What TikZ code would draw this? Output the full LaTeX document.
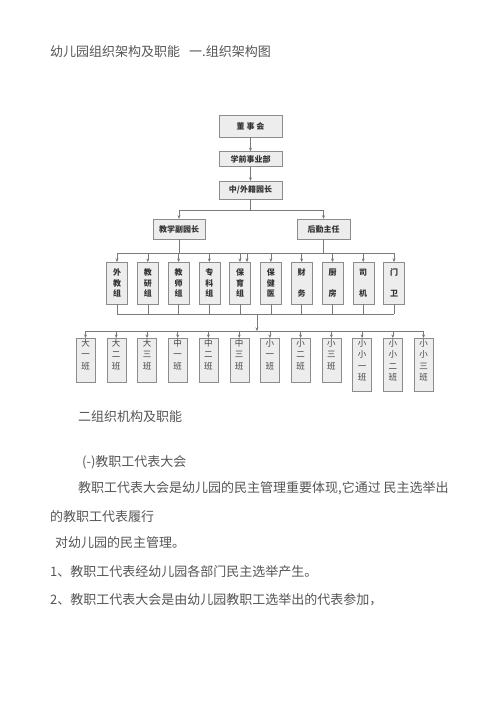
\documentclass[tikz,border=0pt]{standalone}
\usepackage{fontspec}
\setmainfont{Noto Sans CJK SC}
\usetikzlibrary{arrows.meta}
\definecolor{linegray}{HTML}{7A7A7A}
\definecolor{boxline}{HTML}{8C8C8C}
\definecolor{boxfill}{HTML}{EDEDED}
\definecolor{textgray}{HTML}{555555}
\begin{document}
\begin{tikzpicture}[x=1pt,y=-1pt,
  box/.style={draw=boxline, fill=boxfill, inner sep=1pt, text=black!80, font=\fontsize{8}{10}\selectfont\bfseries},
  gbox/.style={box, anchor=north, minimum width=21pt, minimum height=42pt, align=center, font=\fontsize{8}{10.5}\selectfont\bfseries},
  cbox/.style={box, anchor=north, minimum width=19pt, minimum height=44pt},
  ctxt/.style={anchor=north, inner sep=1pt, align=center, text=black!75, font=\fontsize{8.5}{11.5}\selectfont},
  txt/.style={anchor=west, inner sep=0pt, text=textgray, font=\fontsize{13}{15}\selectfont},
  conn/.style={draw=linegray, line width=0.6pt},
  arr/.style={conn, -{Stealth[length=3.5pt,width=3pt]}}]
\path[fill=white] (0,0) rectangle (500,707);
\useasboundingbox (0,0) rectangle (500,707);

% heading
\node[txt] (title) at (50,52) {幼儿园组织架构及职能\hspace{9pt}一.组织架构图};

% top of the chart
\node[box, minimum width=63pt, minimum height=22pt] (dsh) at (250.5,126) {董~事~会};
\node[box, minimum width=63pt, minimum height=15pt] (xq) at (250.5,159) {学前事业部};
\node[box, minimum width=63pt, minimum height=18pt] (zwy) at (250.5,190) {中/外籍园长};
\node[box, minimum width=52pt, minimum height=20pt] (jx) at (179,229) {教学副园长};
\node[box, minimum width=53pt, minimum height=20pt] (hq) at (323.5,229) {后勤主任};
\draw[arr] (dsh) -- (xq);
\draw[arr] (xq) -- (zwy);
\coordinate (topbus) at (250.5,210);
\draw[conn] (zwy) -- (topbus);
\draw[conn] (jx |- topbus) -- (hq |- topbus);
\draw[arr] (jx |- topbus) -- (jx);
\draw[arr] (hq |- topbus) -- (hq);

% groups
\node[gbox] (g1) at (117,262) {外\\教\\组};
\node[gbox] (g2) at (147.8,262) {教\\研\\组};
\node[gbox] (g3) at (178.6,262) {教\\师\\组};
\node[gbox] (g4) at (209.3,262) {专\\科\\组};
\node[gbox] (g5) at (240.1,262) {保\\育\\组};
\node[gbox] (g6) at (270.9,262) {保\\健\\医};
\node[gbox] (g7) at (301.7,262) {财\\[10.5pt]务};
\node[gbox] (g8) at (332.5,262) {厨\\[10.5pt]房};
\node[gbox] (g9) at (363.2,262) {司\\[10.5pt]机};
\node[gbox] (g10) at (394,262) {门\\[10.5pt]卫};
\coordinate (midbus) at (0,253);
\coordinate (byL) at (240,253);
\coordinate (byR) at (247,253);
\draw[conn] (jx) -- (jx |- midbus);
\draw[conn] (hq) -- (hq |- midbus);
\draw[conn] (g1 |- midbus) -- (byR);
\draw[conn] (byL) -- (g10 |- midbus);
\draw[arr] (g1 |- midbus) -- (g1);
\draw[arr] (g2 |- midbus) -- (g2);
\draw[arr] (g3 |- midbus) -- (g3);
\draw[arr] (g4 |- midbus) -- (g4);
\draw[arr] (byL) -- (byL |- g5.north);
\draw[arr] (byR) -- (byR |- g5.north);
\draw[arr] (g6 |- midbus) -- (g6);
\draw[arr] (g7 |- midbus) -- (g7);
\draw[arr] (g8 |- midbus) -- (g8);
\draw[arr] (g9 |- midbus) -- (g9);
\draw[arr] (g10 |- midbus) -- (g10);

% collect the groups
\coordinate (lowbus) at (0,314);
\draw[conn] (g1) -- (g1 |- lowbus);
\draw[conn] (g2) -- (g2 |- lowbus);
\draw[conn] (g3) -- (g3 |- lowbus);
\draw[conn] (g4) -- (g4 |- lowbus);
\draw[conn] (g5) -- (g5 |- lowbus);
\draw[conn] (g6) -- (g6 |- lowbus);
\draw[conn] (g7) -- (g7 |- lowbus);
\draw[conn] (g8) -- (g8 |- lowbus);
\draw[conn] (g9) -- (g9 |- lowbus);
\draw[conn] (g10) -- (g10 |- lowbus);
\draw[conn] (g1 |- lowbus) -- (g10 |- lowbus);

% classes
\node[cbox] (c1) at (85.5,338) {};
\node[cbox] (c2) at (116.2,338) {};
\node[cbox] (c3) at (147,338) {};
\node[cbox] (c4) at (177.7,338) {};
\node[cbox] (c5) at (208.4,338) {};
\node[cbox] (c6) at (239.2,338) {};
\node[cbox] (c7) at (269.9,338) {};
\node[cbox] (c8) at (300.6,338) {};
\node[cbox] (c9) at (331.4,338) {};
\node[cbox, minimum height=53pt] (c10) at (362.1,338) {};
\node[cbox, minimum height=53pt] (c11) at (392.8,338) {};
\node[cbox, minimum height=53pt] (c12) at (423.5,338) {};
\node[ctxt] (c1t) at (c1.north) {大\\一\\班};
\node[ctxt] (c2t) at (c2.north) {大\\二\\班};
\node[ctxt] (c3t) at (c3.north) {大\\三\\班};
\node[ctxt] (c4t) at (c4.north) {中\\一\\班};
\node[ctxt] (c5t) at (c5.north) {中\\二\\班};
\node[ctxt] (c6t) at (c6.north) {中\\三\\班};
\node[ctxt] (c7t) at (c7.north) {小\\一\\班};
\node[ctxt] (c8t) at (c8.north) {小\\二\\班};
\node[ctxt] (c9t) at (c9.north) {小\\三\\班};
\node[ctxt] (c10t) at (c10.north) {小\\小\\一\\班};
\node[ctxt] (c11t) at (c11.north) {小\\小\\二\\班};
\node[ctxt] (c12t) at (c12.north) {小\\小\\三\\班};
\coordinate (drop) at (257,314);
\coordinate (clsbus) at (257,331);
\draw[arr] (drop) -- (clsbus);
\draw[conn] (c1 |- clsbus) -- (c12 |- clsbus);
\draw[arr] (c1 |- clsbus) -- (c1);
\draw[arr] (c2 |- clsbus) -- (c2);
\draw[arr] (c3 |- clsbus) -- (c3);
\draw[arr] (c4 |- clsbus) -- (c4);
\draw[arr] (c5 |- clsbus) -- (c5);
\draw[arr] (c6 |- clsbus) -- (c6);
\draw[arr] (c7 |- clsbus) -- (c7);
\draw[arr] (c8 |- clsbus) -- (c8);
\draw[arr] (c9 |- clsbus) -- (c9);
\draw[arr] (c10 |- clsbus) -- (c10);
\draw[arr] (c11 |- clsbus) -- (c11);
\draw[arr] (c12 |- clsbus) -- (c12);

% text below the chart
\node[txt] (sec2) at (78,417) {二组织机构及职能};
\node[txt] (sub1) at (82,462) {(-)教职工代表大会};
\node[txt] (p1) at (78,488) {教职工代表大会是幼儿园的民主管理重要体现,它通过 民主选举出};
\node[txt] (p2) at (50,517) {的教职工代表履行};
\node[txt] (p3) at (55,543) {对幼儿园的民主管理。};
\node[txt] (p4) at (50,572) {1、教职工代表经幼儿园各部门民主选举产生。};
\node[txt] (p5) at (50,600) {2、教职工代表大会是由幼儿园教职工选举出的代表参加，};
\end{tikzpicture}
\end{document}
